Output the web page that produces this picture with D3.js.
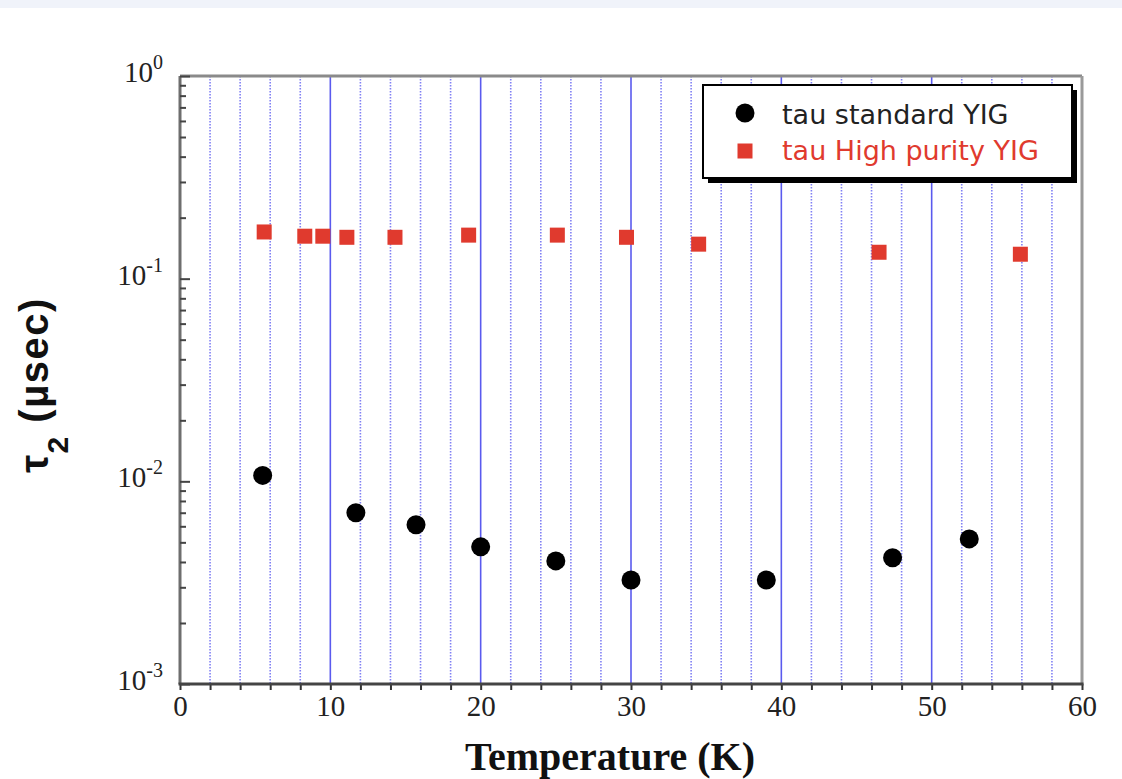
<!DOCTYPE html>
<html>
<head>
<meta charset="utf-8">
<script src="https://cdn.jsdelivr.net/npm/d3@7"></script>
<style>
body { margin: 0; background: #fff; }
</style>
</head>
<body>
<div id="chart"></div>
<script>
// tau standard YIG
var standardT = [5.5, 11.7, 15.7, 20.0, 25.0, 30.0, 39.0, 47.4, 52.5];
var standardTau = [0.0107, 0.0070, 0.0061, 0.00475, 0.00405, 0.00326, 0.00326, 0.0042, 0.0052];
// tau High purity YIG
var purityT = [5.6, 8.3, 9.5, 11.1, 14.3, 19.2, 25.1, 29.7, 34.5, 46.5, 55.9];
var purityTau = [0.170, 0.162, 0.162, 0.160, 0.160, 0.164, 0.164, 0.160, 0.148, 0.135, 0.132];

var xTicks = [0, 10, 20, 30, 40, 50, 60];
var yExponents = [0, -1, -2, -3];
var seriesNames = ["tau standard YIG", "tau High purity YIG"];

function init() {
    var margin = { top: 76, right: 40, bottom: 95, left: 180 },
        width = 1082 - margin.left,
        height = 684 - margin.top;

    var svg = d3.select("#chart")
        .append("svg")
        .attr("width", 1122)
        .attr("height", 779);

    // faint strip along the top edge
    svg.append("rect")
        .attr("x", 0).attr("y", 0)
        .attr("width", 1122).attr("height", 8)
        .style("fill", "#f0f3fa");

    var g = svg.append("g")
        .attr("transform", "translate(" + margin.left + "," + margin.top + ")");

    var x = d3.scaleLinear().domain([0, 60]).range([0, width]);
    var y = d3.scaleLog().domain([1e-3, 1]).range([height, 0]);

    // vertical grid
    var minorX = d3.range(2, 60, 2).filter(function (d) { return d % 10 !== 0; });
    var majorX = xTicks.filter(function (d) { return d > 0 && d < 60; });

    g.selectAll(".minor").data(minorX).enter().append("line")
        .attr("x1", d => x(d)).attr("x2", d => x(d))
        .attr("y1", 0).attr("y2", height)
        .style("stroke", "#8080f4")
        .style("stroke-width", 1.6)
        .style("stroke-dasharray", "1.5,1.5");

    g.selectAll(".major").data(majorX).enter().append("line")
        .attr("x1", d => x(d)).attr("x2", d => x(d))
        .attr("y1", 0).attr("y2", height)
        .style("stroke", "#5a5aee")
        .style("stroke-width", 1.6);

    // frame
    g.append("line").attr("x1", 0).attr("x2", width).attr("y1", 0).attr("y2", 0)
        .style("stroke", "#8a8a8a").style("stroke-width", 3);
    g.append("line").attr("x1", width).attr("x2", width).attr("y1", 0).attr("y2", height)
        .style("stroke", "#9a9a9a").style("stroke-width", 3);
    g.append("line").attr("x1", 0).attr("x2", 0).attr("y1", 0).attr("y2", height)
        .style("stroke", "#6e6e6e").style("stroke-width", 3);

    // x axis
    var xAxis = g.append("g")
        .attr("transform", "translate(0," + height + ")")
        .call(d3.axisBottom(x)
            .tickValues(d3.range(0, 61, 2))
            .tickSize(6)
            .tickPadding(5)
            .tickFormat(function (d) { return d % 10 === 0 ? d : ""; }));
    xAxis.select(".domain").remove();
    xAxis.selectAll(".tick line").style("stroke", "#333").style("stroke-width", 2);
    xAxis.selectAll("text")
        .style("font-family", "'Liberation Serif', 'Times New Roman', serif")
        .style("font-size", "29px")
        .style("fill", "#222");
    g.append("line").attr("x1", -1.5).attr("x2", width + 1.5).attr("y1", height).attr("y2", height)
        .style("stroke", "#444").style("stroke-width", 3);

    // y axis minor ticks, pointing inward
    var minorY = [];
    yExponents.forEach(function (e) {
        if (e === 0) return;
        for (var k = 2; k <= 9; k++) minorY.push(k * Math.pow(10, e));
    });
    var yAxis = g.append("g")
        .call(d3.axisLeft(y).tickValues(minorY).tickSize(-6).tickFormat(""));
    yAxis.select(".domain").remove();
    yAxis.selectAll(".tick line").style("stroke", "#444").style("stroke-width", 2);

    var yMajor = g.append("g")
        .call(d3.axisLeft(y).tickValues(yExponents.map(e => Math.pow(10, e))).tickSize(-10).tickFormat(""));
    yMajor.select(".domain").remove();
    yMajor.selectAll(".tick line").style("stroke", "#444").style("stroke-width", 2);

    var yLab = g.selectAll(".ylab").data(yExponents).enter().append("text")
        .attr("x", -17)
        .attr("y", e => y(Math.pow(10, e)) + 6)
        .attr("text-anchor", "end")
        .style("font-family", "'Liberation Serif', 'Times New Roman', serif")
        .style("font-size", "29px")
        .style("fill", "#222");
    yLab.append("tspan").text("10");
    yLab.append("tspan").attr("dy", -13).style("font-size", "20px").text(e => e === 0 ? "0" : "-" + (-e));

    // points
    g.selectAll(".std").data(standardT).enter().append("circle")
        .attr("cx", (d, i) => x(d))
        .attr("cy", (d, i) => y(standardTau[i]))
        .attr("r", 9.5)
        .style("fill", "#000");

    var s = 15;
    g.selectAll(".pur").data(purityT).enter().append("rect")
        .attr("x", (d, i) => x(d) - s / 2)
        .attr("y", (d, i) => y(purityTau[i]) - s / 2)
        .attr("width", s).attr("height", s)
        .style("fill", "#e03a2e");

    // legend
    var leg = svg.append("g").attr("transform", "translate(703,85)");
    leg.append("rect").attr("x", 5).attr("y", 5).attr("width", 369).attr("height", 93).style("fill", "#000");
    leg.append("rect").attr("x", 0).attr("y", 0).attr("width", 369).attr("height", 93)
        .style("fill", "#fff").style("stroke", "#000").style("stroke-width", 2);
    leg.append("circle").attr("cx", 42).attr("cy", 28).attr("r", 9.5).style("fill", "#000");
    leg.append("rect").attr("x", 42 - 7.5).attr("y", 66 - 7.5).attr("width", 15).attr("height", 15).style("fill", "#e03a2e");
    leg.append("text").attr("x", 79).attr("y", 39).text(seriesNames[0])
        .style("font-family", "'DejaVu Sans', sans-serif").style("font-size", "27px").style("fill", "#222");
    leg.append("text").attr("x", 79).attr("y", 75).text(seriesNames[1])
        .style("font-family", "'DejaVu Sans', sans-serif").style("font-size", "27px").style("fill", "#e03a2e");

    // axis titles
    svg.append("text")
        .attr("x", 610).attr("y", 770)
        .attr("text-anchor", "middle")
        .style("font-family", "'Liberation Serif', 'Times New Roman', serif")
        .style("font-weight", "bold")
        .style("font-size", "40px")
        .style("fill", "#111")
        .text("Temperature (K)");

    var yt = svg.append("text")
        .attr("transform", "translate(48,385) rotate(-90)")
        .attr("text-anchor", "middle")
        .style("font-family", "'Liberation Sans', Arial, sans-serif")
        .style("font-weight", "bold")
        .style("font-size", "40px")
        .style("letter-spacing", "1.5px")
        .style("fill", "#111");
    yt.append("tspan").text("τ");
    yt.append("tspan").attr("dy", 20).style("font-size", "30px").text("2");
    yt.append("tspan").attr("dy", -20).text(" (µsec)");
}

window.onload = init;
</script>
</body>
</html>
